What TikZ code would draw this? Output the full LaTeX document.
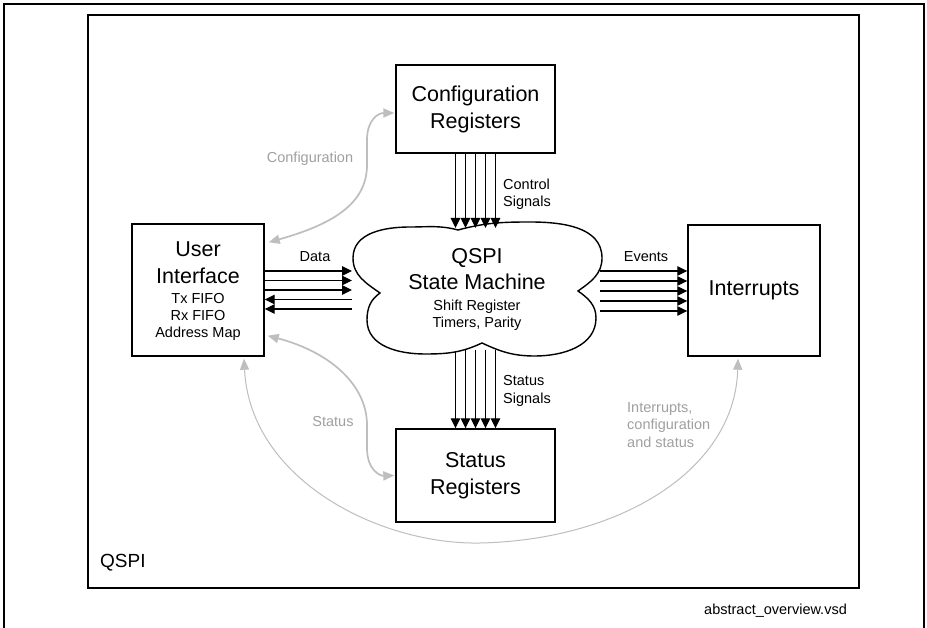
\documentclass[tikz,border=0pt]{standalone}
\usepackage{fontspec}
\setmainfont{Liberation Sans}
\usetikzlibrary{arrows.meta,calc}
\definecolor{lgline}{RGB}{190,190,190}
\definecolor{lgtext}{RGB}{160,160,160}
\newcommand\bigtxt{\fontsize{21.5}{27}\selectfont}
\newcommand\smtxt{\fontsize{14.5}{17}\selectfont}
\newcommand\qtxt{\fontsize{19}{22}\selectfont}
\begin{document}
\begin{tikzpicture}[x=1pt,y=1pt,
  box/.style={draw=black,line width=1.4pt,fill=white,inner sep=0pt,align=center,font=\bigtxt},
  blk/.style={line width=1.2pt,-{Triangle[length=10pt,width=9.5pt]}},
  garr/.style={draw=lgline,line width=1.7pt,{Triangle[length=11pt,width=9pt,fill=lgline]}-{Triangle[length=11pt,width=9pt,fill=lgline]}},
  gthin/.style={draw=lgline,line width=1pt,{Triangle[length=11pt,width=9pt,fill=lgline]}-{Triangle[length=11pt,width=9pt,fill=lgline]}},
  lbl/.style={inner sep=0pt,font=\smtxt,anchor=base},
  glbl/.style={inner sep=0pt,font=\smtxt,text=lgtext,anchor=base},
  big/.style={inner sep=0pt,font=\bigtxt,anchor=base}]
\useasboundingbox (0,0) rectangle (927,-628);
\fill[white] (0,0) rectangle (927,-628);
% outer frame
\draw[line width=1.1pt] (4,-628) -- (4,-4) -- (924,-4) -- (924,-628);
% inner frame
\node[draw=black,line width=1.6pt,minimum width=771,minimum height=573,inner sep=0pt] (qspi) at (473.5,-301.5) {};
\node[inner sep=0pt,font=\qtxt,anchor=base west] (qspilbl) at (100,-567) {QSPI};
\node[inner sep=0pt,font=\smtxt,anchor=base west] (file) at (704,-614) {abstract\_overview.vsd};

% boxes
\node[box,minimum width=159,minimum height=88] (cfg) at (475.5,-109) {Configuration\\Registers};
\node[box,minimum width=159,minimum height=93] (st) at (475.5,-475.5) {Status\\Registers};
\node[box,minimum width=132,minimum height=131] (irq) at (754,-290.5) {Interrupts};
\node[box,minimum width=132,minimum height=132] (ui) at (198,-290) {};
\node[big] (ui1) at (198,-257) {User};
\node[big] (ui2) at (198,-284) {Interface};
\node[lbl] (ui3) at (198,-304) {Tx FIFO};
\node[lbl] (ui4) at (198,-321) {Rx FIFO};
\node[lbl] (ui5) at (198,-338) {Address Map};

% cloud coordinates
\coordinate (cloud) at (477,-289);
\coordinate (cloudN) at (475.5,-228);
\coordinate (cloudS) at (475.5,-350);
\coordinate (cloudW) at (352,-290);
\coordinate (cloudE) at (600,-290);

% status signals (under the cloud)
\foreach \dx in {-20,-10,0,10,20}
  \draw[blk] ($(cloudS)+(\dx,0)$) -- ($(st.north)+(\dx,0)$);

% cloud
\draw[line width=1.4pt,fill=white]
  (458,-230) to[out=15,in=180] (530,-222) to[out=0,in=90] (602,-258)
  to[out=-90,in=35] (578,-291) to[out=-35,in=90] (596,-318)
  to[out=-90,in=0] (535,-356) to[out=180,in=-25] (482,-343)
  to[out=-155,in=0] (425,-354) to[out=180,in=-90] (367,-320)
  to[out=90,in=-145] (380,-293) to[out=145,in=-90] (353,-258)
  to[out=90,in=180] (410,-227) to[out=0,in=165] (458,-230) -- cycle;
\node[big] (c1) at (477,-264) {QSPI};
\node[big] (c2) at (477,-290) {State Machine};
\node[lbl] (c3) at (477,-311) {Shift Register};
\node[lbl] (c4) at (477,-328) {Timers, Parity};

% control signals
\foreach \dx in {-20,-10,0,10,20}
  \draw[blk] ($(cfg.south)+(\dx,0)$) -- ($(cloudN)+(\dx,0)$);

% data
\foreach \y in {271,280.5,290}
  \draw[blk] (ui.east |- 0,-\y) -- (cloudW |- 0,-\y);
\foreach \y in {299.5,309}
  \draw[blk] (cloudW |- 0,-\y) -- (ui.east |- 0,-\y);

% events
\foreach \y in {271,281,291,301,311}
  \draw[blk] (cloudE |- 0,-\y) -- (irq.west |- 0,-\y);

% labels
\node[lbl] (ldata) at (315,-262) {Data};
\node[lbl] (lev) at (646,-262) {Events};
\node[lbl,anchor=base west] (lcs1) at (503,-190) {Control};
\node[lbl,anchor=base west] (lcs2) at (503,-207) {Signals};
\node[lbl,anchor=base west] (lss1) at (503,-386) {Status};
\node[lbl,anchor=base west] (lss2) at (503,-403) {Signals};

% gray connectors
\coordinate (gc1) at ($(ui.north east)+(4,-19)$);
\coordinate (gc2) at ($(cfg.west)+(-1,-4)$);
\draw[garr] (gc1) .. controls (330,-225) and (367,-205) .. (367,-165)
  -- (367,-140) .. controls (367,-120) and (378,-113) .. (gc2);
\coordinate (gs1) at ($(ui.south east)+(3,21)$);
\coordinate (gs2) at ($(st.west)+(-1,0)$);
\draw[garr] (gs1) .. controls (330,-352) and (367,-385) .. (367,-425)
  -- (367,-448) .. controls (367,-470) and (380,-476) .. (gs2);
\coordinate (gi1) at ($(ui.south)+(46,-2)$);
\coordinate (gi2) at ($(irq.south)+(-16,-2)$);
\draw[gthin] (gi1) .. controls (250,-480) and (380,-545) .. (480,-543)
  .. controls (620,-540) and (735,-470) .. (gi2);

\node[glbl] (gl1) at (310,-163) {Configuration};
\node[glbl] (gl2) at (333,-427) {Status};
\node[glbl,anchor=base west] (gl3) at (627,-413) {Interrupts,};
\node[glbl,anchor=base west] (gl4) at (627,-430) {configuration};
\node[glbl,anchor=base west] (gl5) at (627,-447) {and status};
\end{tikzpicture}
\end{document}
